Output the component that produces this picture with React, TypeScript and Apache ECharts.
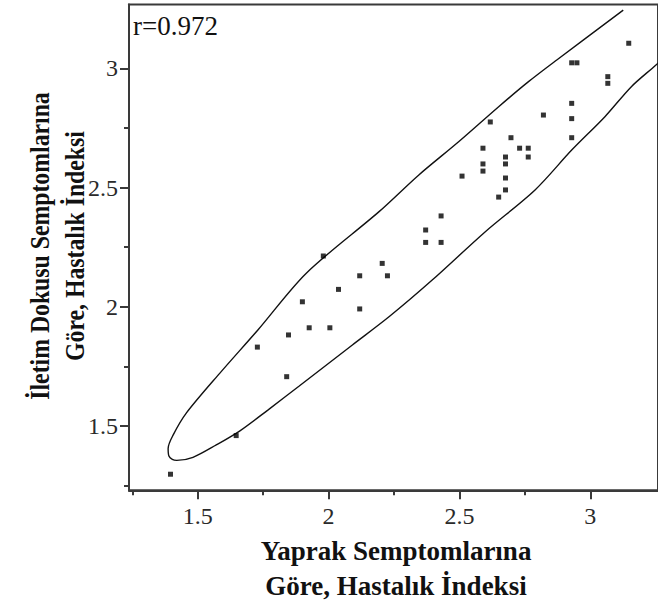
import React, { useEffect, useRef } from "react";
import * as echarts from "echarts";

// Leaf-symptom disease index (x) vs vascular-tissue disease index (y)
const leafIndex = [
  3.147, 2.929, 2.949, 3.067, 3.067, 2.929, 2.821, 2.929, 2.618, 2.929,
  2.697, 2.59, 2.73, 2.763, 2.676, 2.763, 2.59, 2.676, 2.59, 2.51,
  2.676, 2.676, 2.65, 2.43, 2.371, 2.371, 2.43, 2.205, 2.225, 1.98,
  2.119, 2.038, 1.9, 2.119, 1.926, 2.005, 1.847, 1.728, 1.84, 1.647,
  1.396,
];
const vascularIndex = [
  3.105, 3.023, 3.023, 2.965, 2.937, 2.853, 2.804, 2.789, 2.775, 2.709,
  2.709, 2.665, 2.665, 2.665, 2.628, 2.628, 2.599, 2.599, 2.569, 2.548,
  2.54, 2.49, 2.46, 2.381, 2.322, 2.27, 2.27, 2.182, 2.13, 2.213,
  2.13, 2.073, 2.021, 1.991, 1.912, 1.912, 1.882, 1.831, 1.707, 1.46,
  1.298,
];

// Outline of the confidence ellipse
const ellipseX = [
  3.126, 2.872, 2.764, 2.65, 2.497, 2.345, 2.193, 1.914, 1.73, 1.584,
  1.457, 1.406, 1.387, 1.39, 1.403, 1.42, 1.482, 1.571, 1.66, 1.768,
  1.888, 2.091, 2.231, 2.396, 2.599, 2.789, 2.929, 3.056, 3.157, 3.251,
  3.373,
];
const ellipseY = [
  3.244, 3.035, 2.944, 2.839, 2.692, 2.553, 2.399, 2.14, 1.903, 1.721,
  1.555, 1.462, 1.406, 1.374, 1.36, 1.356, 1.369, 1.421, 1.479, 1.567,
  1.668, 1.84, 1.958, 2.112, 2.315, 2.49, 2.657, 2.797, 2.923, 3.014,
  3.14,
];

const majorTicks = [1.5, 2, 2.5, 3];
const minorTicks = [1.25, 1.75, 2.25, 2.75];
const rLabel = "r=0.972";
const xTitle = ["Yaprak Semptomlarına", "Göre, Hastalık İndeksi"];
const yTitle = ["İletim Dokusu Semptomlarına", "Göre, Hastalık İndeksi"];

const X_MIN = 1.2375;
const X_MAX = 3.2588;
const Y_MIN = 1.2306;
const Y_MAX = 3.2675;

const SERIF = '"Liberation Serif", "Times New Roman", serif';
const AXIS_COLOR = "#3a3a3a";

export default function App() {
  const ref = useRef<HTMLDivElement>(null);

  useEffect(() => {
    if (!ref.current) return;
    const chart = echarts.init(ref.current, null, { renderer: "svg" });

    const tickStyle = { color: AXIS_COLOR, width: 2 };
    const labelStyle = { fontFamily: SERIF, fontSize: 24, color: "#2a2a2a" };

    const majorX = {
      type: "value",
      gridIndex: 0,
      position: "bottom",
      min: X_MIN,
      max: X_MAX,
      axisLine: { show: true, onZero: false, lineStyle: tickStyle },
      axisTick: { show: true, customValues: majorTicks, length: 9, lineStyle: tickStyle },
      axisLabel: { show: true, customValues: majorTicks, margin: 14, ...labelStyle },
      splitLine: { show: false },
    };
    const minorX = {
      type: "value",
      gridIndex: 0,
      position: "bottom",
      min: X_MIN,
      max: X_MAX,
      axisLine: { show: false },
      axisTick: { show: true, customValues: minorTicks, length: 5, lineStyle: tickStyle },
      axisLabel: { show: false },
      splitLine: { show: false },
    };
    const majorY = {
      type: "value",
      gridIndex: 0,
      position: "left",
      min: Y_MIN,
      max: Y_MAX,
      axisLine: { show: true, onZero: false, lineStyle: tickStyle },
      axisTick: { show: true, customValues: majorTicks, length: 9, lineStyle: tickStyle },
      axisLabel: { show: true, customValues: majorTicks, margin: 11, ...labelStyle },
      splitLine: { show: false },
    };
    const minorY = {
      type: "value",
      gridIndex: 0,
      position: "left",
      min: Y_MIN,
      max: Y_MAX,
      axisLine: { show: false },
      axisTick: { show: true, customValues: minorTicks, length: 5, lineStyle: tickStyle },
      axisLabel: { show: false },
      splitLine: { show: false },
    };

    const textStyle = (text: string, font: string, align: string) => ({
      text,
      font,
      fill: "#111",
      textAlign: align,
      textVerticalAlign: "middle",
      align,
      verticalAlign: "middle",
    });

    const option: any = {
      animation: false,
      backgroundColor: "#ffffff",
      grid: {
        left: 129,
        top: 4.5,
        right: -2,
        bottom: 114.7,
        show: true,
        borderColor: AXIS_COLOR,
        borderWidth: 2,
        backgroundColor: "transparent",
      },
      xAxis: [majorX, minorX],
      yAxis: [majorY, minorY],
      series: [
        {
          type: "line",
          xAxisIndex: 0,
          yAxisIndex: 0,
          data: ellipseX.map((x, i) => [x, ellipseY[i]]),
          smooth: 0.3,
          symbol: "none",
          showSymbol: false,
          clip: true,
          lineStyle: { color: "#111", width: 1.4 },
          z: 2,
        },
        {
          type: "scatter",
          xAxisIndex: 0,
          yAxisIndex: 0,
          data: leafIndex.map((x, i) => [x, vascularIndex[i]]),
          symbol: "rect",
          symbolSize: 5,
          itemStyle: { color: "#000" },
          z: 3,
        },
      ],
      graphic: [
        {
          type: "text",
          x: 133,
          y: 26,
          style: textStyle(rLabel, `27px ${SERIF}`, "left"),
        },
        ...xTitle.map((t, i) => ({
          type: "text",
          x: 396,
          y: 551 + i * 35,
          style: textStyle(t, `bold 27px ${SERIF}`, "center"),
        })),
        ...yTitle.map((t, i) => ({
          type: "text",
          x: 40 + i * 35,
          y: 246,
          rotation: Math.PI / 2,
          scaleX: 0.88,
          style: textStyle(t, `bold 27px ${SERIF}`, "center"),
        })),
      ],
    };

    chart.setOption(option);
    return () => chart.dispose();
  }, []);

  return (
    <div
      ref={ref}
      style={{ position: "fixed", left: 0, top: 0, width: 658, height: 605, background: "#fff" }}
    />
  );
}
